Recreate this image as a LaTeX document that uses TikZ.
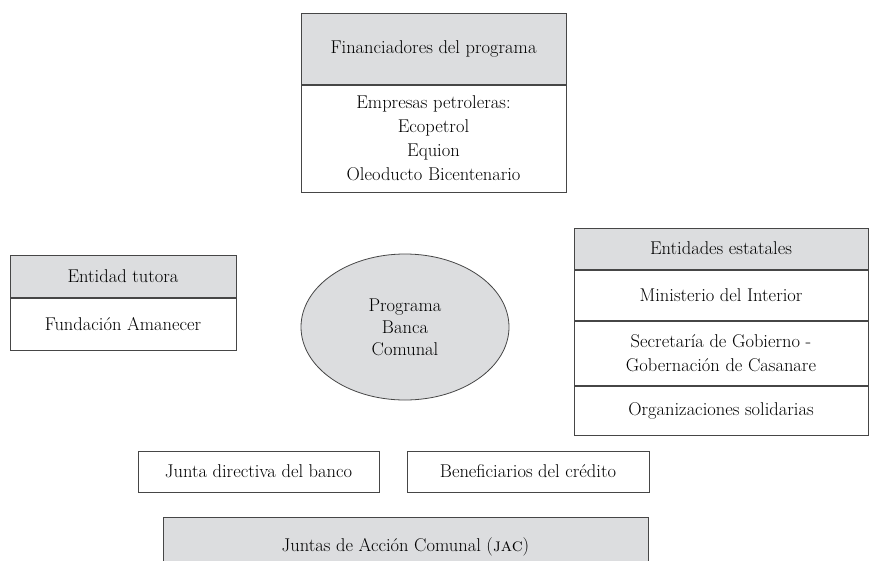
\documentclass[tikz,border=0pt]{standalone}
\usetikzlibrary{calc}
\usetikzlibrary{shapes.geometric}
\definecolor{cajagris}{RGB}{220,221,223}
\definecolor{borde}{RGB}{70,70,70}
\tikzset{
  caja/.style={draw=borde, line width=1pt, rectangle, inner sep=0pt, align=center,
    font=\fontsize{18.5}{24}\selectfont},
  cabeza/.style={caja, fill=cajagris},
}

\begin{document}
\begin{tikzpicture}[x=1pt,y=-1pt]
\useasboundingbox (0,0) rectangle (869,560);
\clip (0,0) rectangle (869,560);
\node[cabeza, minimum width=265pt, minimum height=71pt] (fin) at (433.5,48.5) {Financiadores del programa};
\node[caja, minimum width=265pt, minimum height=107pt, anchor=north] (finb) at (fin.south)
  {Empresas petroleras:\\Ecopetrol\\Equion\\Oleoducto Bicentenario};

\node[cabeza, minimum width=226pt, minimum height=42pt] (tut) at (123,276) {Entidad tutora};
\node[caja, minimum width=226pt, minimum height=52pt, anchor=north] (tutb) at (tut.south) {Fundación Amanecer};

\node[ellipse, draw=borde, line width=0.8pt, fill=cajagris, inner sep=0pt, align=center,
  font=\fontsize{18.5}{22}\selectfont, minimum width=208pt, minimum height=146pt] (prog) at (405,327)
  {Programa\\Banca\\Comunal};

\node[cabeza, minimum width=294pt, minimum height=41pt] (est) at (721,248.5) {Entidades estatales};
\node[caja, minimum width=294pt, minimum height=50pt, anchor=north] (min) at (est.south) {Ministerio del Interior};
\node[caja, minimum width=294pt, minimum height=64pt, anchor=north] (sec) at (min.south)
  {Secretaría de Gobierno -\\Gobernación de Casanare};
\node[caja, minimum width=294pt, minimum height=49pt, anchor=north] (org) at (sec.south) {Organizaciones solidarias};

\node[caja, minimum width=241pt, minimum height=41pt] (junta) at (258.5,471.5) {Junta directiva del banco};
\node[caja, minimum width=242pt, minimum height=41pt] (benef) at (528,471.5) {Beneficiarios del crédito};

\node[cabeza, minimum width=485pt, minimum height=60pt] (jac) at (405.5,547) {Juntas de Acción Comunal (\textsc{jac})};
\end{tikzpicture}
\end{document}
